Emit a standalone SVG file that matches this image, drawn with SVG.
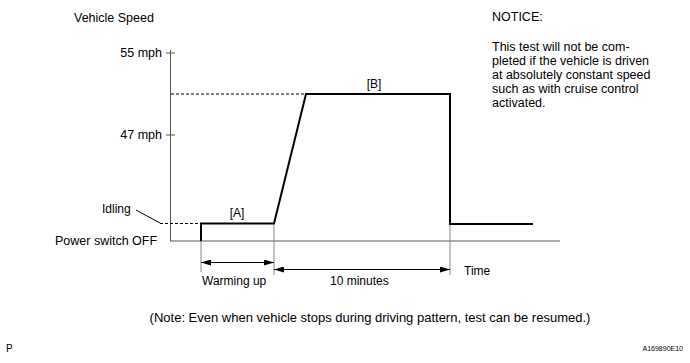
<svg xmlns="http://www.w3.org/2000/svg" width="690" height="363" viewBox="0 0 690 363">
<style>
text{font-family:"Liberation Sans",Arial,sans-serif;font-size:12.5px;fill:#000}
.sm{font-size:12px}
.ax{stroke:#555;stroke-width:1;fill:none}
.guide{stroke:#888;stroke-width:1;fill:none}
.trace{stroke:#000;stroke-width:2;fill:none}
.dash{stroke:#000;stroke-width:1;stroke-dasharray:3,2;fill:none}
.dim{stroke:#000;stroke-width:1;fill:none;marker-start:url(#ah);marker-end:url(#ah)}
</style>
<defs>
<marker id="ah" viewBox="0 0 10 6" refX="10" refY="3" markerWidth="10" markerHeight="6" markerUnits="userSpaceOnUse" orient="auto-start-reverse">
<path d="M0,0 L10,3 L0,6 Z" fill="#000"/>
</marker>
</defs>
<rect width="690" height="363" fill="#fff"/>
<g id="axes">
<line class="ax" x1="170.5" y1="50" x2="170.5" y2="241"/>
<line class="ax" x1="170" y1="241" x2="560" y2="241"/>
<line class="ax" x1="166" y1="53" x2="175" y2="53"/>
<line class="ax" x1="166" y1="135" x2="175" y2="135"/>
<text x="74" y="22">Vehicle Speed</text>
<text x="162" y="57" text-anchor="end">55 mph</text>
<text x="162" y="139" text-anchor="end">47 mph</text>
<text x="464" y="275" class="sm">Time</text>
</g>
<g id="labels">
<text x="102" y="213" class="sm">Idling</text>
<text x="55" y="245">Power switch OFF</text>
<text x="237" y="217" text-anchor="middle" class="sm">[A]</text>
<text x="374" y="88" text-anchor="middle" class="sm">[B]</text>
</g>
<g id="connectors">
<line x1="136" y1="210" x2="160" y2="223" stroke="#000" stroke-width="1"/>
<line class="dash" x1="160" y1="223.5" x2="201" y2="223.5"/>
<line class="dash" x1="171" y1="94" x2="306" y2="94"/>
<line class="guide" x1="201" y1="241" x2="201" y2="272"/>
<line class="guide" x1="274" y1="225" x2="274" y2="275"/>
<line class="guide" x1="450" y1="225" x2="450" y2="275"/>
<line class="dim" x1="201" y1="262.5" x2="274" y2="262.5"/>
<line class="dim" x1="274" y1="269.5" x2="450" y2="269.5"/>
</g>
<g id="trace">
<polyline class="trace" points="201,241 201,223.5 274,223.5 306,94 450,94 450,224 533,224"/>
</g>
<g id="dimtext">
<text x="202" y="285" class="sm">Warming up</text>
<text x="330" y="285" class="sm">10 minutes</text>
</g>
<g id="notice">
<text x="492" y="21">NOTICE:</text>
<text x="492" y="51">This test will not be com-</text>
<text x="492" y="65">pleted if the vehicle is driven</text>
<text x="492" y="79">at absolutely constant speed</text>
<text x="492" y="93">such as with cruise control</text>
<text x="492" y="107">activated.</text>
</g>
<g id="footer">
<text x="370" y="322" text-anchor="middle" style="font-size:13px">(Note: Even when vehicle stops during driving pattern, test can be resumed.)</text>
<text x="6" y="352" style="font-size:10px">P</text>
<text x="683" y="351" text-anchor="end" style="font-size:7px">A169890E10</text>
</g>
</svg>
